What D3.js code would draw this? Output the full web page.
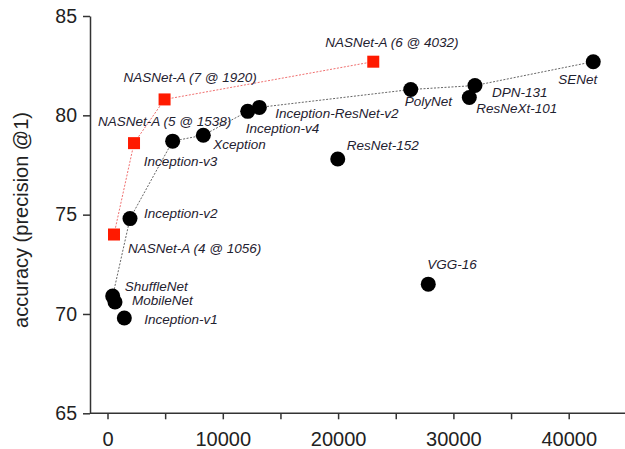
<!DOCTYPE html>
<html>
<head>
<meta charset="utf-8">
<script src="https://cdnjs.cloudflare.com/ajax/libs/d3/7.8.5/d3.min.js"></script>
<style>
  body { margin: 0; background: #fff; }
  svg { display: block; font-family: "Liberation Sans", Arial, sans-serif; }
  .axis path, .axis line { stroke: #333; stroke-width: 1.5; }
  .axis text { fill: #222; }
  .lbl { font-style: italic; font-size: 13.5px; fill: #1f2230; }
</style>
</head>
<body>
<div id="graph-div"></div>
<script>

// NASNet-A models (mult-adds in millions, top-1 accuracy)
var nasNames = ["NASNet-A (4 @ 1056)", "NASNet-A (5 @ 1538)", "NASNet-A (7 @ 1920)", "NASNet-A (6 @ 4032)"];
var nasOps   = [564, 2300, 4950, 23050];
var nasAcc   = [74.0, 78.6, 80.8, 82.7];

// other published models
var modelNames = ["ShuffleNet", "MobileNet", "Inception-v1", "Inception-v2", "Inception-v3", "Xception",
                  "Inception-v4", "Inception-ResNet-v2", "ResNet-152", "VGG-16", "PolyNet",
                  "DPN-131", "ResNeXt-101", "SENet"];
var modelOps   = [450, 650, 1460, 1950, 5650, 8310, 12160, 13170, 19970, 27820, 26300, 31870, 31380, 42130];
var modelAcc   = [70.9, 70.6, 69.8, 74.8, 78.7, 79.0, 80.2, 80.4, 77.8, 71.5, 81.3, 81.5, 80.9, 82.7];

// models on the dotted frontier line, in order
var frontier = ["ShuffleNet", "Inception-v2", "Inception-v3", "Xception", "Inception-v4",
                "Inception-ResNet-v2", "PolyNet", "DPN-131", "SENet"];

var xTicks = [0, 5000, 10000, 15000, 20000, 25000, 30000, 35000, 40000];
var yTicks = [65, 70, 75, 80, 85];

// where each label sits relative to its marker (dx, dy of baseline start)
var labelPos = {
  "NASNet-A (4 @ 1056)": [14, 18], "NASNet-A (5 @ 1538)": [-36, -17],
  "NASNet-A (7 @ 1920)": [-41, -17], "NASNet-A (6 @ 4032)": [-48, -15],
  "ShuffleNet": [12, -5], "MobileNet": [17, 3], "Inception-v1": [20, 6],
  "Inception-v2": [14, -1], "Inception-v3": [-29, 25], "Xception": [10, 14],
  "Inception-v4": [-2, 22], "Inception-ResNet-v2": [16, 11], "ResNet-152": [9, -9],
  "VGG-16": [-1, -15], "PolyNet": [-6, 16], "DPN-131": [17, 11],
  "ResNeXt-101": [7, 16], "SENet": [-35, 22]
};

var width = 625, height = 449;

var svg = d3.select("#graph-div").append("svg")
    .attr("width", width)
    .attr("height", height);

var x = d3.scaleLinear().domain([0, 40000]).range([107.5, 568.7]);
var y = d3.scaleLinear().domain([65, 85]).range([413.3, 16]);

var nas = nasNames.map(function(n, i) { return { name: n, ops: nasOps[i], acc: nasAcc[i] }; });
var models = modelNames.map(function(n, i) { return { name: n, ops: modelOps[i], acc: modelAcc[i] }; });
var frontierPts = frontier.map(function(n) {
  return models.find(function(d) { return d.name === n; });
});

// axes
var xAxis = svg.append("g")
    .attr("class", "axis")
    .attr("transform", "translate(0," + y(65) + ")")
    .call(d3.axisBottom(x)
      .tickValues(xTicks)
      .tickSize(6)
      .tickSizeOuter(0)
      .tickPadding(13)
      .tickFormat(function(d) { return d % 10000 === 0 ? d : ""; }));
xAxis.select(".domain").attr("d", "M" + (x.range()[0] - 17.5) + ",0H" + width);
xAxis.selectAll("text").style("font-size", "20px");

var yAxis = svg.append("g")
    .attr("class", "axis")
    .attr("transform", "translate(" + (x(0) - 17.5) + ",0)")
    .call(d3.axisLeft(y)
      .tickValues(yTicks)
      .tickSize(7)
      .tickSizeOuter(0)
      .tickPadding(6));
yAxis.selectAll("text").style("font-size", "19.5px");

svg.append("text")
    .attr("transform", "translate(28," + 220 + ") rotate(-90)")
    .attr("text-anchor", "middle")
    .style("font-size", "20px")
    .style("fill", "#222")
    .text("accuracy (precision @1)");

var line = d3.line()
    .x(function(d) { return x(d.ops); })
    .y(function(d) { return y(d.acc); });

svg.append("path")
    .datum(frontierPts)
    .attr("d", line)
    .style("fill", "none")
    .style("stroke", "#666")
    .style("stroke-width", 1)
    .style("stroke-dasharray", "2,1.5");

svg.append("path")
    .datum(nas)
    .attr("d", line)
    .style("fill", "none")
    .style("stroke", "#f07070")
    .style("stroke-width", 1)
    .style("stroke-dasharray", "2,1.5");

svg.selectAll(".model")
    .data(models)
  .enter().append("circle")
    .attr("class", "model")
    .attr("cx", function(d) { return x(d.ops); })
    .attr("cy", function(d) { return y(d.acc); })
    .attr("r", 7.5)
    .style("fill", "#000");

svg.selectAll(".nas")
    .data(nas)
  .enter().append("rect")
    .attr("class", "nas")
    .attr("x", function(d) { return x(d.ops) - 6; })
    .attr("y", function(d) { return y(d.acc) - 6; })
    .attr("width", 12)
    .attr("height", 12)
    .style("fill", "#ff1a00");

svg.selectAll(".lbl")
    .data(nas.concat(models))
  .enter().append("text")
    .attr("class", "lbl")
    .attr("x", function(d) { return x(d.ops) + labelPos[d.name][0]; })
    .attr("y", function(d) { return y(d.acc) + labelPos[d.name][1]; })
    .text(function(d) { return d.name; });

</script>
</body>
</html>
